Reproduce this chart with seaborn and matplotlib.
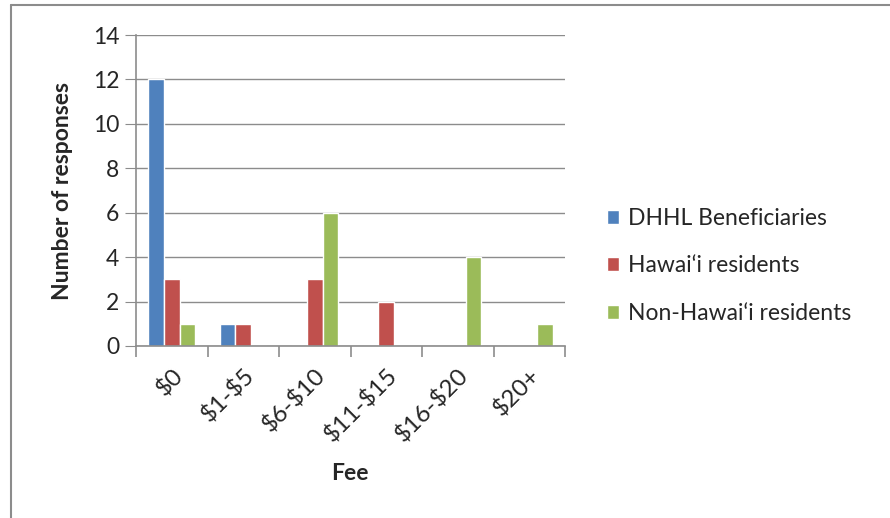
import pandas as pd
import seaborn as sns
import matplotlib.pyplot as plt
from matplotlib.lines import Line2D
from matplotlib.ticker import FixedLocator

fees = ["$0", "$1-$5", "$6-$10", "$11-$15", "$16-$20", "$20+"]
groups = ["DHHL Beneficiaries", "Hawai\u2018i residents", "Non-Hawai\u2018i residents"]
dhhl = [12, 1, 0, 0, 0, 0]
hawaii = [3, 1, 3, 2, 0, 0]
non_hawaii = [1, 0, 6, 0, 4, 1]
colors = ["#4F81BD", "#C0504D", "#9BBB59"]

df = pd.DataFrame({"Fee": fees * 3,
                   "Group": [g for g in groups for _ in fees],
                   "Count": dhhl + hawaii + non_hawaii})

sns.set_style("white")
plt.rcParams["font.family"] = ["Lato", "DejaVu Sans"]
plt.rcParams["text.parse_math"] = False

fs = 16.5
fig = plt.figure(figsize=(8.9, 5.18), dpi=100)
ax = fig.add_axes([136 / 890, 1 - 346 / 518, 429 / 890, 311 / 518])

sns.barplot(data=df, x="Fee", y="Count", hue="Group", palette=colors,
            width=0.66, gap=0, saturation=1, ax=ax, legend=True)

ax.set_xlim(-0.5, 5.5)
ax.set_ylim(0, 14)
ax.set_yticks(range(0, 15, 2))
ax.yaxis.grid(True, color="#8c8c8c", linewidth=1)
ax.set_axisbelow(True)
for s in ["top", "right"]:
    ax.spines[s].set_visible(False)
for s in ["left", "bottom"]:
    ax.spines[s].set_color("#8c8c8c")
    ax.spines[s].set_linewidth(1.2)

ax.tick_params(axis="y", which="major", left=True, length=8, color="#8c8c8c",
               labelsize=fs, pad=4)
ax.tick_params(axis="x", which="major", bottom=False, labelsize=17.5, pad=10)
ax.xaxis.set_minor_locator(FixedLocator([i - 0.5 for i in range(7)]))
ax.tick_params(axis="x", which="minor", bottom=True, length=8, color="#8c8c8c",
               width=1.2)
for lbl in ax.get_xticklabels():
    lbl.set_rotation(45)
    lbl.set_ha("right")
    lbl.set_rotation_mode("anchor")

ax.set_xlabel("Fee", fontsize=fs, fontweight="bold")
ax.set_ylabel("Number of responses", fontsize=fs, fontweight="bold")
ax.xaxis.set_label_coords(0.499, -0.375)
ax.yaxis.set_label_coords(-0.148, 0.5)

handles, labels = ax.get_legend_handles_labels()
ax.legend(handles, labels, loc="center left",
          bbox_to_anchor=(586 / 890, 1 - 266 / 518),
          bbox_transform=fig.transFigure, frameon=False, fontsize=fs,
          handlelength=0.55, handleheight=0.55, handletextpad=0.4, labelspacing=1.15)

fig.add_artist(Line2D([11 / 890, 11 / 890], [0, 1 - 5 / 518], color="#8c8c8c",
                      linewidth=1.5, transform=fig.transFigure))
fig.add_artist(Line2D([11 / 890, 1], [1 - 5 / 518, 1 - 5 / 518], color="#8c8c8c",
                      linewidth=1.5, transform=fig.transFigure))

fig.savefig("out.png", dpi=100)
